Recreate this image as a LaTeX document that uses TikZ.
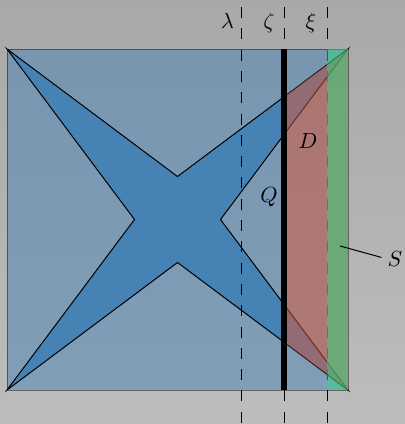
\documentclass[tikz,border=0pt]{standalone}
\usetikzlibrary{calc}
\definecolor{bgtop}{gray}{0.66}
\definecolor{bgmid}{gray}{0.53}
\definecolor{bgbot}{gray}{0.74}
\definecolor{sqblue}{RGB}{70,130,180}
\definecolor{starblue}{RGB}{70,130,180}
\definecolor{redov}{RGB}{222,86,54}
\definecolor{greenov}{RGB}{45,220,125}
\begin{document}
\begin{tikzpicture}[x=0.5pt,y=-0.5pt,
  lbl/.style={font=\fontsize{11}{13}\selectfont, inner sep=0pt},
  dashline/.style={line width=0.45pt, dash pattern=on 5.5pt off 5.15pt},
  thin/.style={line width=0.5pt}]
\useasboundingbox (0,0) rectangle (405,424);
\shade[top color=bgtop, middle color=bgmid, bottom color=bgbot] (0,0) rectangle (405,424);
% square
\fill[sqblue, fill opacity=0.5] (7,49) rectangle (348,390);
% star
\filldraw[fill=starblue, draw=black, thin]
  (7,49) -- (177.5,176.5) -- (348,49) -- (220.5,219.5) -- (348,390)
  -- (177.5,262.5) -- (7,390) -- (134.5,219.5) -- cycle;
% square border
\draw[black, draw opacity=0.45, thin] (7,49) rectangle (348,390);
% dashed lines
\coordinate (l0) at (241,7); \coordinate (l1) at (241,424);
\coordinate (z0) at (284,7); \coordinate (z1) at (284,424);
\coordinate (x0) at (327,7); \coordinate (x1) at (327,424);
\draw[dashline] (l0) -- (l1);
\draw[dashline] (z0) -- (z1);
\draw[dashline] (x0) -- (x1);
% red region
\begin{scope}
  \clip (284,0) rectangle (348,424);
  \fill[redov, fill opacity=0.5] (177.5,176.5) -- (348,49) -- (348,390) -- (177.5,262.5) -- cycle;
\end{scope}
% green strip
\fill[greenov, fill opacity=0.5] (327,49) rectangle (348,390);
% thick line
\coordinate (t0) at (284,49); \coordinate (t1) at (284,390);
\draw[line width=2.8pt] (t0) -- (t1);
% labels
\node[lbl, anchor=base] (lam) at (227.5,28) {$\lambda$};
\node[lbl, anchor=base] (zet) at (269,28) {$\zeta$};
\node[lbl, anchor=base] (xi) at (311,28) {$\xi$};
\node[lbl] (D) at (308,141) {$D$};
\node[lbl] (Q) at (269,197) {$Q$};
\node[lbl] (S) at (395,259) {$S$};
\coordinate (s0) at (340,246);
\draw[thin, shorten >=3pt] (s0) -- (S.west);
\end{tikzpicture}
\end{document}
